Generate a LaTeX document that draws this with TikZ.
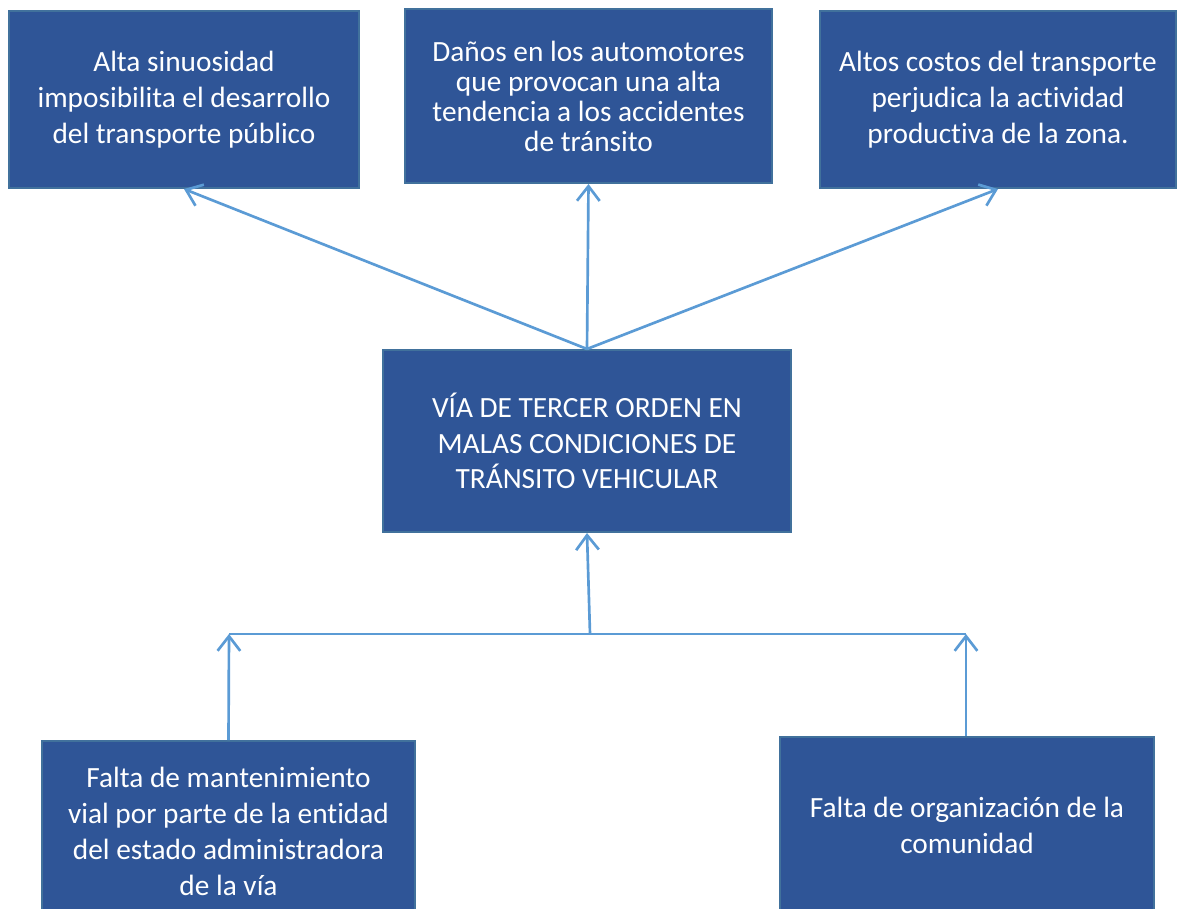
\documentclass[tikz,border=0pt]{standalone}
\usepackage{fontspec}
\setmainfont{Carlito}[Ligatures={NoCommon}]
\usetikzlibrary{arrows.meta, calc, positioning}

\definecolor{boxfill}{HTML}{2F5597}
\definecolor{boxline}{HTML}{41719C}
\definecolor{arrowblue}{HTML}{5B9BD5}

\begin{document}
\begin{tikzpicture}[
  x=0.75pt, y=-0.75pt,
  font=\fontsize{22}{27}\selectfont,
  box/.style={draw=boxline, line width=1.5pt, fill=boxfill, text=white, align=center, inner sep=0pt},
  arrowU/.style={arrowblue, line width=2pt, arrows={-Straight Barb[length=11pt, width=17pt, line width=2pt]}},
  lineH/.style={arrowblue, line width=1pt}
]
\useasboundingbox (0,0) rectangle (1178,909);

% Effects (top row)
\node[box, minimum width=262.5pt, minimum height=132.75pt] (effA) at (184,99.5)
  {Alta sinuosidad\\ imposibilita el desarrollo\\ del transporte público};
\node[box, minimum width=275.25pt, minimum height=130.5pt, font=\fontsize{22}{22.5}\selectfont] (effB) at (588.5,96)
  {Daños en los automotores\\ que provocan una alta\\ tendencia a los accidentes\\ de tránsito};
\node[box, minimum width=267pt, minimum height=132.75pt] (effC) at (998,99.5)
  {Altos costos del transporte\\ perjudica la actividad\\ productiva de la zona.};

% Central problem
\node[box, minimum width=306pt, minimum height=136.5pt, font=\fontsize{22}{26.5}\selectfont] (prob) at (587,441)
  {VÍA DE TERCER ORDEN EN\\ MALAS CONDICIONES DE\\ TRÁNSITO VEHICULAR};

% Causes (bottom row, cut by the page edge)
\node[box, minimum width=279.75pt, minimum height=135pt] (causeA) at (228.5,831)
  {Falta de mantenimiento\\ vial por parte de la entidad\\ del estado administradora\\ de la vía};
\node[box, minimum width=280.5pt, minimum height=132pt] (causeB) at (967,825)
  {Falta de organización de la\\ comunidad};

% Effect arrows
\draw[arrowU] (prob.north) -- (effA.south);
\draw[arrowU] (prob.north) -- (effB.south);
\draw[arrowU] (prob.north) -- (effC.south);

% Cause arrows
\coordinate (join) at (590,634);
\coordinate (joinL) at (229,634);
\coordinate (joinR) at (966,634);
\draw[lineH] (joinL) -- (joinR);
\draw[arrowU] (join) -- (prob.south);
\draw[arrowU] (causeA.north) -- (joinL);
\draw[arrowU] (joinR |- causeB.north) -- (joinR);

\end{tikzpicture}
\end{document}
